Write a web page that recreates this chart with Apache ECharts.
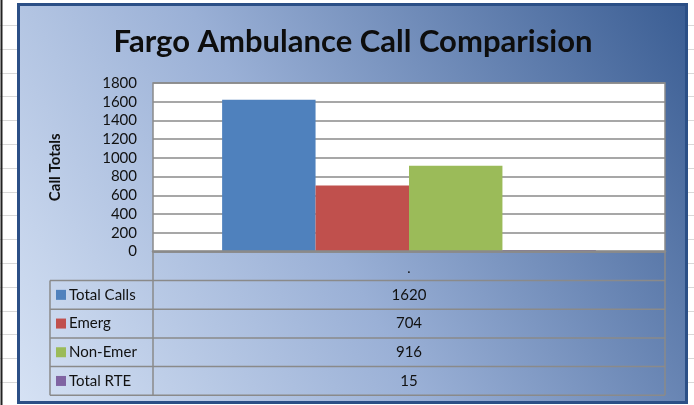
<!DOCTYPE html>
<html><head><meta charset="utf-8">
<script src="https://cdn.jsdelivr.net/npm/echarts@6/dist/echarts.min.js"></script>
<style>html,body{margin:0;padding:0;background:#fff}#c{width:694px;height:405px}</style>
</head><body><div id="c"></div>
<script>
var categories = ['.'];
var seriesNames = ['Total Calls', 'Emerg', 'Non-Emer', 'Total RTE'];
var totalCalls = [1620];
var emerg = [704];
var nonEmer = [916];
var totalRTE = [15];
var seriesColors = ['#4F81BD', '#C0504D', '#9BBB59', '#8064A2'];
var yTicks = [0, 200, 400, 600, 800, 1000, 1200, 1400, 1600, 1800];

var seriesData = [totalCalls, emerg, nonEmer, totalRTE];
var FONT = 'Lato';
var G = {left: 153, top: 83, width: 512, height: 168.5};
var tableLeft = 50, rowH = 28.7, headerH = 29;

var chart = echarts.init(document.getElementById('c'));
var graphics = [];

// spreadsheet background grid lines
for (var y = 25; y < 405; y += 23.8) {
  graphics.push({type:'line', shape:{x1:0,y1:Math.round(y)+0.5,x2:18,y2:Math.round(y)+0.5}, style:{stroke:'#d8d8d8',lineWidth:1}, z:-10});
  graphics.push({type:'line', shape:{x1:688,y1:Math.round(y)+0.5,x2:694,y2:Math.round(y)+0.5}, style:{stroke:'#d8d8d8',lineWidth:1}, z:-10});
}
graphics.push({type:'line', shape:{x1:1.5,y1:0,x2:1.5,y2:405}, style:{stroke:'#222',lineWidth:2}, z:-9});

// chart frame with gradient
graphics.push({type:'rect', shape:{x:18.5,y:4.5,width:668,height:398},
  style:{fill:new echarts.graphic.LinearGradient(0,1,1,0,[
    {offset:0,color:'#d6e2f4'},{offset:0.45,color:'#9ab0d6'},{offset:1,color:'#3a5d93'}]),
    stroke:'#2b4f86',lineWidth:3}, z:-8});

// data table
var tTop = G.top + G.height;
var rowsTop = tTop + headerH;
var tRight = G.left + G.width;
var tStroke = {stroke:'#8a8a8a', lineWidth:1.5};
graphics.push({type:'line', shape:{x1:G.left,y1:tTop,x2:G.left,y2:rowsTop+rowH*seriesNames.length}, style:tStroke, z:5});
graphics.push({type:'line', shape:{x1:tRight,y1:tTop,x2:tRight,y2:rowsTop+rowH*seriesNames.length}, style:tStroke, z:5});
graphics.push({type:'line', shape:{x1:tableLeft,y1:rowsTop,x2:tableLeft,y2:rowsTop+rowH*seriesNames.length}, style:tStroke, z:5});
for (var i = 0; i <= seriesNames.length; i++) {
  var yy = rowsTop + rowH*i;
  graphics.push({type:'line', shape:{x1:tableLeft,y1:yy,x2:tRight,y2:yy}, style:tStroke, z:5});
}
seriesNames.forEach(function(n, i){
  var cy = rowsTop + rowH*i + rowH/2;
  graphics.push({type:'rect', shape:{x:56,y:cy-5,width:10,height:10}, style:{fill:seriesColors[i]}, z:6});
  graphics.push({type:'text', x:69, y:cy, style:{text:n, font:'15px '+FONT, fill:'#111', verticalAlign:'middle', align:'left'}, z:6});
  graphics.push({type:'text', x:(G.left+tRight)/2, y:cy, style:{text:String(seriesData[i][0]), font:'15px '+FONT, fill:'#111', verticalAlign:'middle', align:'center'}, z:6});
});

chart.setOption({
  animation:false,
  title:{text:'Fargo Ambulance Call Comparision', left:348, textAlign:'center', top:21,
    textStyle:{fontFamily:FONT, fontWeight:'bold', fontSize:31, color:'#0d0d0d'}},
  grid:{left:G.left, top:G.top, width:G.width, height:G.height, show:true, backgroundColor:'#fff', borderColor:'#8a8a8a', borderWidth:1.5, containLabel:false},
  xAxis:{type:'category', data:categories, axisTick:{show:false}, z:10,
    axisLine:{show:true, lineStyle:{color:'#8a8a8a', width:2.5}},
    axisLabel:{margin:10, fontFamily:FONT, fontSize:14, color:'#111'}},
  yAxis:{type:'value', min:yTicks[0], max:yTicks[yTicks.length-1], interval:yTicks[1]-yTicks[0],
    name:'Call Totals', nameLocation:'middle', nameGap:90, nameRotate:90,
    nameTextStyle:{fontFamily:FONT, fontWeight:'bold', fontSize:15, color:'#111'},
    axisLine:{show:false}, axisTick:{show:false},
    axisLabel:{margin:16, fontFamily:FONT, fontSize:15, color:'#111', formatter:function(v){return String(v);}},
    splitLine:{lineStyle:{color:'#8a8a8a', width:1.5}}},
  series: seriesNames.map(function(n, i){
    return {type:'bar', name:n, data:seriesData[i], barGap:'0%', barCategoryGap:'27%',
      itemStyle:{color:seriesColors[i]}, z:2};
  }),
  graphic:{elements:graphics}
});
</script></body></html>
